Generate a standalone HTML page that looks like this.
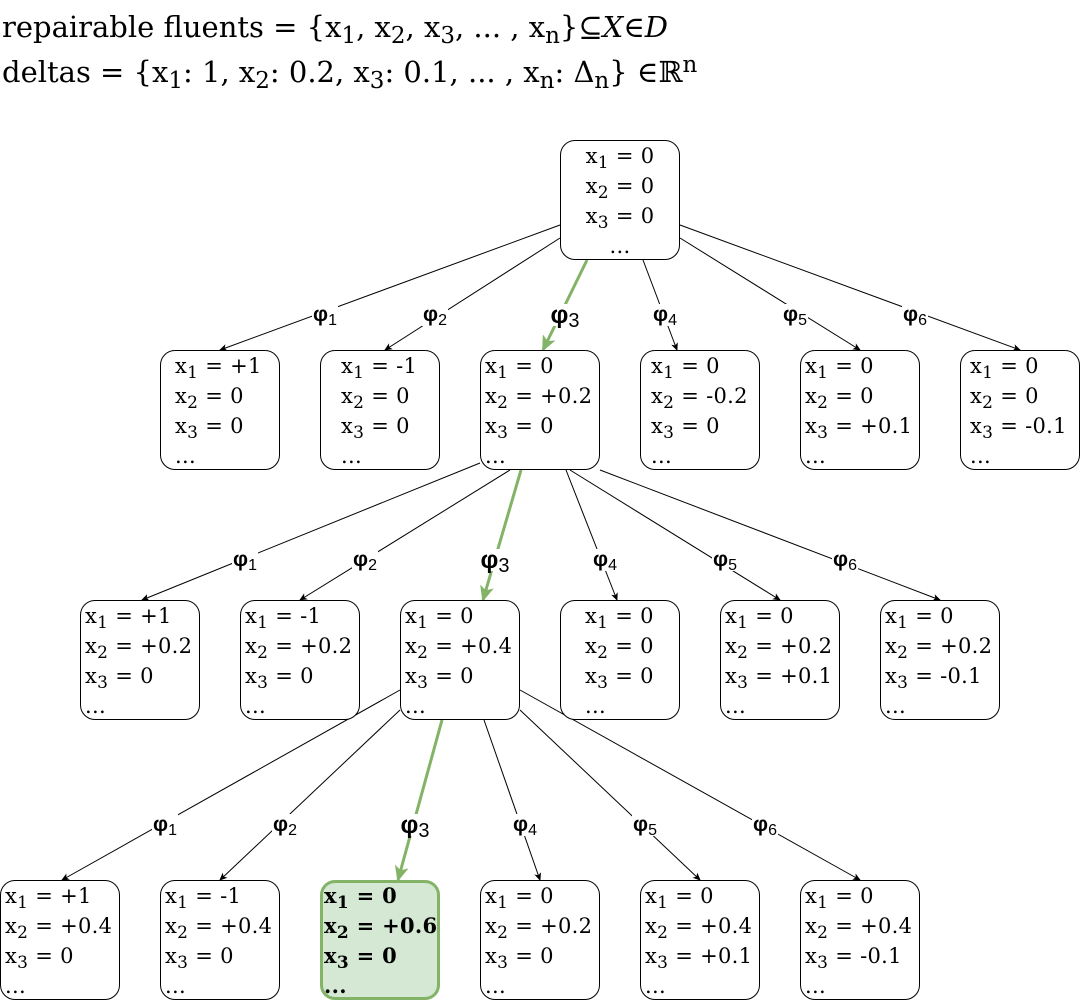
<!DOCTYPE html>
<html><head><meta charset="utf-8"><style>
body{margin:0;width:1081px;height:1002px;background:#fff;position:relative;overflow:hidden;font-family:"DejaVu Serif","Liberation Serif",serif;}
.h{position:absolute;left:2px;font-size:29px;white-space:nowrap;line-height:30px}
.h sub{font-size:23px;vertical-align:-6px;line-height:0}
.h sup{font-size:23px;vertical-align:10px;line-height:0}
.n{position:absolute;width:118px;height:118px;border:1px solid #000;border-radius:15px;box-sizing:content-box;font-size:21px;line-height:30px;white-space:nowrap;background:#fff;z-index:1;letter-spacing:0.3px}
.n div{height:30px}
.n .f{margin-top:0px}
.n sub{font-size:17px;vertical-align:-5px;line-height:0}
.c{text-align:center}
.g{background:#d5e8d4;border:3px solid #82b366;width:114px;height:114px;font-weight:bold}
.l{position:absolute;font-family:"Liberation Sans","DejaVu Sans",sans-serif;font-size:21px;background:#fff;transform:translate(-50%,-50%);line-height:22px;z-index:2;padding:0 1px;font-weight:bold}
.l sub{font-size:16px;vertical-align:-4px;line-height:0;font-weight:normal}
.l.b{font-size:25px}
.l.b sub{font-size:20px}
svg{position:absolute;left:0;top:0}
</style></head><body>
<div class="h" style="top:12px">repairable fluents = {x<sub>1</sub>, x<sub>2</sub>, x<sub>3</sub>, ... , x<sub>n</sub>}⊆<i>X</i>∈<i>D</i></div>
<div class="h" style="top:57px">deltas = {x<sub>1</sub>: 1, x<sub>2</sub>: 0.2, x<sub>3</sub>: 0.1, ... , x<sub>n</sub>: Δ<sub>n</sub>} ∈ℝ<sup>n</sup></div>

<svg width="1081" height="1002">
<defs>
<marker id="a" markerWidth="8" markerHeight="8" refX="7" refY="4" orient="auto" markerUnits="userSpaceOnUse"><path d="M0,0.5 L8,4 L0,7.5 L2,4 z" fill="#000"/></marker>
<marker id="g" markerWidth="16" markerHeight="14" refX="14" refY="7" orient="auto" markerUnits="userSpaceOnUse"><path d="M0,0 L16,7 L0,14 L4,7 z" fill="#82b366"/></marker>
</defs>
<g stroke="#000" stroke-width="1" fill="none" marker-end="url(#a)">
<line x1="560" y1="225" x2="220" y2="350"/>
<line x1="560" y1="238" x2="385" y2="350"/>
<line x1="643" y1="260" x2="677" y2="350"/>
<line x1="680" y1="238" x2="860" y2="350"/>
<line x1="680" y1="225" x2="1020" y2="350"/>
<line x1="480" y1="463" x2="142" y2="600"/>
<line x1="510" y1="470" x2="300" y2="600"/>
<line x1="566" y1="470" x2="617" y2="600"/>
<line x1="570" y1="470" x2="780" y2="600"/>
<line x1="600" y1="470" x2="940" y2="600"/>
<line x1="400" y1="690" x2="62" y2="880"/>
<line x1="400" y1="710" x2="220" y2="880"/>
<line x1="484" y1="720" x2="540" y2="880"/>
<line x1="520" y1="710" x2="700" y2="880"/>
<line x1="520" y1="690" x2="860" y2="880"/>
</g>
<g stroke="#82b366" stroke-width="3" fill="none" marker-end="url(#g)">
<line x1="587" y1="260" x2="543" y2="350"/>
<line x1="521" y1="470" x2="483" y2="600"/>
<line x1="442" y1="720" x2="398" y2="880"/>
</g>
</svg>

<div class="l" style="left:325px;top:315px">φ<sub>1</sub></div>
<div class="l" style="left:435px;top:315px">φ<sub>2</sub></div>
<div class="l b" style="left:565px;top:315px">φ<sub>3</sub></div>
<div class="l" style="left:665px;top:315px">φ<sub>4</sub></div>
<div class="l" style="left:795px;top:315px">φ<sub>5</sub></div>
<div class="l" style="left:915px;top:315px">φ<sub>6</sub></div>
<div class="l" style="left:245px;top:560px">φ<sub>1</sub></div>
<div class="l" style="left:365px;top:560px">φ<sub>2</sub></div>
<div class="l b" style="left:495px;top:560px">φ<sub>3</sub></div>
<div class="l" style="left:605px;top:560px">φ<sub>4</sub></div>
<div class="l" style="left:725px;top:560px">φ<sub>5</sub></div>
<div class="l" style="left:845px;top:560px">φ<sub>6</sub></div>
<div class="l" style="left:165px;top:825px">φ<sub>1</sub></div>
<div class="l" style="left:285px;top:825px">φ<sub>2</sub></div>
<div class="l b" style="left:415px;top:825px">φ<sub>3</sub></div>
<div class="l" style="left:525px;top:825px">φ<sub>4</sub></div>
<div class="l" style="left:645px;top:825px">φ<sub>5</sub></div>
<div class="l" style="left:765px;top:825px">φ<sub>6</sub></div>

<div class="n c" style="left:560px;top:140px"><div class="f">x<sub>1</sub> = 0</div><div>x<sub>2</sub> = 0</div><div>x<sub>3</sub> = 0</div><div>...</div></div>

<div class="n" style="left:160px;top:350px;padding-left:14px;width:104px"><div class="f">x<sub>1</sub> = +1</div><div>x<sub>2</sub> = 0</div><div>x<sub>3</sub> = 0</div><div>...</div></div>
<div class="n" style="left:320px;top:350px;padding-left:20px;width:98px"><div class="f">x<sub>1</sub> = -1</div><div>x<sub>2</sub> = 0</div><div>x<sub>3</sub> = 0</div><div>...</div></div>
<div class="n" style="left:480px;top:350px;padding-left:4px;width:114px"><div class="f">x<sub>1</sub> = 0</div><div>x<sub>2</sub> = +0.2</div><div>x<sub>3</sub> = 0</div><div>...</div></div>
<div class="n" style="left:640px;top:350px;padding-left:10px;width:108px"><div class="f">x<sub>1</sub> = 0</div><div>x<sub>2</sub> = -0.2</div><div>x<sub>3</sub> = 0</div><div>...</div></div>
<div class="n" style="left:800px;top:350px;padding-left:4px;width:114px"><div class="f">x<sub>1</sub> = 0</div><div>x<sub>2</sub> = 0</div><div>x<sub>3</sub> = +0.1</div><div>...</div></div>
<div class="n" style="left:960px;top:350px;padding-left:9px;width:109px"><div class="f">x<sub>1</sub> = 0</div><div>x<sub>2</sub> = 0</div><div>x<sub>3</sub> = -0.1</div><div>...</div></div>

<div class="n" style="left:80px;top:600px;padding-left:4px;width:114px"><div class="f">x<sub>1</sub> = +1</div><div>x<sub>2</sub> = +0.2</div><div>x<sub>3</sub> = 0</div><div>...</div></div>
<div class="n" style="left:240px;top:600px;padding-left:4px;width:114px"><div class="f">x<sub>1</sub> = -1</div><div>x<sub>2</sub> = +0.2</div><div>x<sub>3</sub> = 0</div><div>...</div></div>
<div class="n" style="left:400px;top:600px;padding-left:4px;width:114px"><div class="f">x<sub>1</sub> = 0</div><div>x<sub>2</sub> = +0.4</div><div>x<sub>3</sub> = 0</div><div>...</div></div>
<div class="n" style="left:560px;top:600px;padding-left:24px;width:94px"><div class="f">x<sub>1</sub> = 0</div><div>x<sub>2</sub> = 0</div><div>x<sub>3</sub> = 0</div><div>...</div></div>
<div class="n" style="left:720px;top:600px;padding-left:4px;width:114px"><div class="f">x<sub>1</sub> = 0</div><div>x<sub>2</sub> = +0.2</div><div>x<sub>3</sub> = +0.1</div><div>...</div></div>
<div class="n" style="left:880px;top:600px;padding-left:4px;width:114px"><div class="f">x<sub>1</sub> = 0</div><div>x<sub>2</sub> = +0.2</div><div>x<sub>3</sub> = -0.1</div><div>...</div></div>

<div class="n" style="left:0px;top:880px;padding-left:4px;width:114px"><div class="f">x<sub>1</sub> = +1</div><div>x<sub>2</sub> = +0.4</div><div>x<sub>3</sub> = 0</div><div>...</div></div>
<div class="n" style="left:160px;top:880px;padding-left:4px;width:114px"><div class="f">x<sub>1</sub> = -1</div><div>x<sub>2</sub> = +0.4</div><div>x<sub>3</sub> = 0</div><div>...</div></div>
<div class="n g" style="left:320px;top:880px;padding-left:1px;width:113px"><div class="f" style="margin-top:-2px">x<sub>1</sub> = 0</div><div>x<sub>2</sub> = +0.6</div><div>x<sub>3</sub> = 0</div><div>...</div></div>
<div class="n" style="left:480px;top:880px;padding-left:4px;width:114px"><div class="f">x<sub>1</sub> = 0</div><div>x<sub>2</sub> = +0.2</div><div>x<sub>3</sub> = 0</div><div>...</div></div>
<div class="n" style="left:640px;top:880px;padding-left:4px;width:114px"><div class="f">x<sub>1</sub> = 0</div><div>x<sub>2</sub> = +0.4</div><div>x<sub>3</sub> = +0.1</div><div>...</div></div>
<div class="n" style="left:800px;top:880px;padding-left:4px;width:114px"><div class="f">x<sub>1</sub> = 0</div><div>x<sub>2</sub> = +0.4</div><div>x<sub>3</sub> = -0.1</div><div>...</div></div>
</body></html>
